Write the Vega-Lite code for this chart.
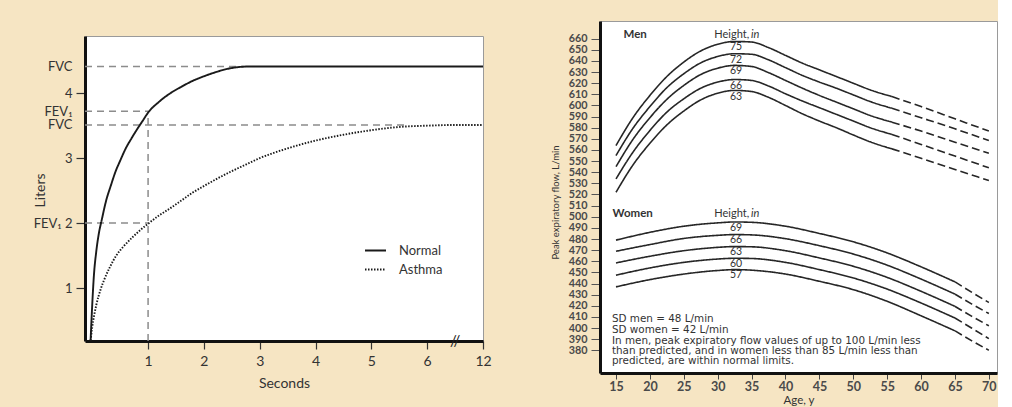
{
  "$schema": "https://vega.github.io/schema/vega-lite/v6.json",
  "background": "#f6e5c3",
  "padding": {"left": 32, "top": 20, "right": 0, "bottom": 0},
  "spacing": 57,
  "resolve": {"scale": {"strokeDash": "independent"}, "legend": {"strokeDash": "independent"}},
  "config": {
    "font": "Lato",
    "view": {"stroke": "#9a9a9a", "strokeWidth": 1, "fill": "white"},
    "axis": {"grid": false, "domainColor": "#111", "domainWidth": 3, "labelColor": "#333", "titleColor": "#333", "titleFontWeight": "normal", "zindex": 1, "labelOverlap": false, "labelFlush": false}
  },
  "datasets": {
    "refs": [
      {"t": -0.13, "L": 4.41, "t2": 2.75, "L2": 4.41},
      {"t": -0.13, "L": 3.72, "t2": 1, "L2": 3.72},
      {"t": -0.13, "L": 3.51, "t2": 5.6, "L2": 3.51},
      {"t": -0.13, "L": 2, "t2": 1, "L2": 2},
      {"t": 1, "L": 0.185, "t2": 1, "L2": 3.66}
    ],
    "spiro": [
      {"series": "Normal", "t": -0.03, "L": 0.19},
      {"series": "Normal", "t": 0.0, "L": 0.75},
      {"series": "Normal", "t": 0.03, "L": 1.2},
      {"series": "Normal", "t": 0.07, "L": 1.55},
      {"series": "Normal", "t": 0.12, "L": 1.85},
      {"series": "Normal", "t": 0.17, "L": 2.05},
      {"series": "Normal", "t": 0.25, "L": 2.35},
      {"series": "Normal", "t": 0.33, "L": 2.57},
      {"series": "Normal", "t": 0.42, "L": 2.8},
      {"series": "Normal", "t": 0.5, "L": 2.96},
      {"series": "Normal", "t": 0.6, "L": 3.15},
      {"series": "Normal", "t": 0.7, "L": 3.3},
      {"series": "Normal", "t": 0.8, "L": 3.44},
      {"series": "Normal", "t": 0.9, "L": 3.57},
      {"series": "Normal", "t": 1.0, "L": 3.7},
      {"series": "Normal", "t": 1.2, "L": 3.87},
      {"series": "Normal", "t": 1.4, "L": 4.0},
      {"series": "Normal", "t": 1.6, "L": 4.1},
      {"series": "Normal", "t": 1.8, "L": 4.19},
      {"series": "Normal", "t": 2.0, "L": 4.26},
      {"series": "Normal", "t": 2.2, "L": 4.32},
      {"series": "Normal", "t": 2.4, "L": 4.37},
      {"series": "Normal", "t": 2.6, "L": 4.4},
      {"series": "Normal", "t": 2.8, "L": 4.41},
      {"series": "Normal", "t": 3.0, "L": 4.41},
      {"series": "Normal", "t": 7.0, "L": 4.41},
      {"series": "Asthma", "t": -0.03, "L": 0.19},
      {"series": "Asthma", "t": 0.0, "L": 0.4},
      {"series": "Asthma", "t": 0.07, "L": 0.73},
      {"series": "Asthma", "t": 0.15, "L": 0.98},
      {"series": "Asthma", "t": 0.22, "L": 1.14},
      {"series": "Asthma", "t": 0.32, "L": 1.33},
      {"series": "Asthma", "t": 0.43, "L": 1.5},
      {"series": "Asthma", "t": 0.55, "L": 1.63},
      {"series": "Asthma", "t": 0.73, "L": 1.79},
      {"series": "Asthma", "t": 0.87, "L": 1.9},
      {"series": "Asthma", "t": 1.0, "L": 1.99},
      {"series": "Asthma", "t": 1.2, "L": 2.12},
      {"series": "Asthma", "t": 1.4, "L": 2.23},
      {"series": "Asthma", "t": 1.6, "L": 2.35},
      {"series": "Asthma", "t": 1.8, "L": 2.47},
      {"series": "Asthma", "t": 2.0, "L": 2.57},
      {"series": "Asthma", "t": 2.25, "L": 2.69},
      {"series": "Asthma", "t": 2.5, "L": 2.8},
      {"series": "Asthma", "t": 2.75, "L": 2.9},
      {"series": "Asthma", "t": 3.0, "L": 3.0},
      {"series": "Asthma", "t": 3.5, "L": 3.15},
      {"series": "Asthma", "t": 4.0, "L": 3.27},
      {"series": "Asthma", "t": 4.5, "L": 3.36},
      {"series": "Asthma", "t": 5.0, "L": 3.43},
      {"series": "Asthma", "t": 5.5, "L": 3.48},
      {"series": "Asthma", "t": 6.0, "L": 3.5},
      {"series": "Asthma", "t": 6.5, "L": 3.51},
      {"series": "Asthma", "t": 7.0, "L": 3.51}
    ],
    "brk": [{"t": 6.5, "L": 0.185, "label": "//"}],
    "pef": [
      {"sex": "Men", "ht": 75, "seg": "solid", "age": 15, "pef": 564},
      {"sex": "Men", "ht": 75, "seg": "solid", "age": 17.5, "pef": 589},
      {"sex": "Men", "ht": 75, "seg": "solid", "age": 20, "pef": 609},
      {"sex": "Men", "ht": 75, "seg": "solid", "age": 22.5, "pef": 626},
      {"sex": "Men", "ht": 75, "seg": "solid", "age": 25, "pef": 639},
      {"sex": "Men", "ht": 75, "seg": "solid", "age": 27.5, "pef": 649},
      {"sex": "Men", "ht": 75, "seg": "solid", "age": 30, "pef": 655},
      {"sex": "Men", "ht": 75, "seg": "solid", "age": 32.5, "pef": 657.5},
      {"sex": "Men", "ht": 75, "seg": "solid", "age": 35, "pef": 657},
      {"sex": "Men", "ht": 75, "seg": "solid", "age": 37.5, "pef": 652},
      {"sex": "Men", "ht": 75, "seg": "solid", "age": 40, "pef": 645},
      {"sex": "Men", "ht": 75, "seg": "solid", "age": 42.5, "pef": 638},
      {"sex": "Men", "ht": 75, "seg": "solid", "age": 45, "pef": 632},
      {"sex": "Men", "ht": 75, "seg": "solid", "age": 47.5, "pef": 626},
      {"sex": "Men", "ht": 75, "seg": "solid", "age": 50, "pef": 620},
      {"sex": "Men", "ht": 75, "seg": "solid", "age": 52.5, "pef": 614},
      {"sex": "Men", "ht": 75, "seg": "solid", "age": 55.7, "pef": 608},
      {"sex": "Men", "ht": 75, "seg": "dashed", "age": 55.7, "pef": 608},
      {"sex": "Men", "ht": 75, "seg": "dashed", "age": 60, "pef": 599},
      {"sex": "Men", "ht": 75, "seg": "dashed", "age": 65, "pef": 588},
      {"sex": "Men", "ht": 75, "seg": "dashed", "age": 70, "pef": 577},
      {"sex": "Men", "ht": 72, "seg": "solid", "age": 15, "pef": 555},
      {"sex": "Men", "ht": 72, "seg": "solid", "age": 17.5, "pef": 579.5},
      {"sex": "Men", "ht": 72, "seg": "solid", "age": 20, "pef": 599},
      {"sex": "Men", "ht": 72, "seg": "solid", "age": 22.5, "pef": 616},
      {"sex": "Men", "ht": 72, "seg": "solid", "age": 25, "pef": 628.5},
      {"sex": "Men", "ht": 72, "seg": "solid", "age": 27.5, "pef": 638.3},
      {"sex": "Men", "ht": 72, "seg": "solid", "age": 30, "pef": 644},
      {"sex": "Men", "ht": 72, "seg": "solid", "age": 32.5, "pef": 646.5},
      {"sex": "Men", "ht": 72, "seg": "solid", "age": 35, "pef": 646},
      {"sex": "Men", "ht": 72, "seg": "solid", "age": 37.5, "pef": 641},
      {"sex": "Men", "ht": 72, "seg": "solid", "age": 40, "pef": 634},
      {"sex": "Men", "ht": 72, "seg": "solid", "age": 42.5, "pef": 627},
      {"sex": "Men", "ht": 72, "seg": "solid", "age": 45, "pef": 621},
      {"sex": "Men", "ht": 72, "seg": "solid", "age": 47.5, "pef": 615.5},
      {"sex": "Men", "ht": 72, "seg": "solid", "age": 50, "pef": 609.5},
      {"sex": "Men", "ht": 72, "seg": "solid", "age": 52.5, "pef": 603.5},
      {"sex": "Men", "ht": 72, "seg": "solid", "age": 55.7, "pef": 597.5},
      {"sex": "Men", "ht": 72, "seg": "dashed", "age": 55.7, "pef": 597.5},
      {"sex": "Men", "ht": 72, "seg": "dashed", "age": 60, "pef": 589},
      {"sex": "Men", "ht": 72, "seg": "dashed", "age": 65, "pef": 579},
      {"sex": "Men", "ht": 72, "seg": "dashed", "age": 70, "pef": 568.5},
      {"sex": "Men", "ht": 69, "seg": "solid", "age": 15, "pef": 545},
      {"sex": "Men", "ht": 69, "seg": "solid", "age": 17.5, "pef": 569.5},
      {"sex": "Men", "ht": 69, "seg": "solid", "age": 20, "pef": 589},
      {"sex": "Men", "ht": 69, "seg": "solid", "age": 22.5, "pef": 605.5},
      {"sex": "Men", "ht": 69, "seg": "solid", "age": 25, "pef": 618},
      {"sex": "Men", "ht": 69, "seg": "solid", "age": 27.5, "pef": 627.8},
      {"sex": "Men", "ht": 69, "seg": "solid", "age": 30, "pef": 633.5},
      {"sex": "Men", "ht": 69, "seg": "solid", "age": 32.5, "pef": 636},
      {"sex": "Men", "ht": 69, "seg": "solid", "age": 35, "pef": 635},
      {"sex": "Men", "ht": 69, "seg": "solid", "age": 37.5, "pef": 629.5},
      {"sex": "Men", "ht": 69, "seg": "solid", "age": 40, "pef": 622.5},
      {"sex": "Men", "ht": 69, "seg": "solid", "age": 42.5, "pef": 615.5},
      {"sex": "Men", "ht": 69, "seg": "solid", "age": 45, "pef": 609},
      {"sex": "Men", "ht": 69, "seg": "solid", "age": 47.5, "pef": 603},
      {"sex": "Men", "ht": 69, "seg": "solid", "age": 50, "pef": 597},
      {"sex": "Men", "ht": 69, "seg": "solid", "age": 52.5, "pef": 591},
      {"sex": "Men", "ht": 69, "seg": "solid", "age": 55.7, "pef": 585},
      {"sex": "Men", "ht": 69, "seg": "dashed", "age": 55.7, "pef": 585},
      {"sex": "Men", "ht": 69, "seg": "dashed", "age": 60, "pef": 577},
      {"sex": "Men", "ht": 69, "seg": "dashed", "age": 65, "pef": 567},
      {"sex": "Men", "ht": 69, "seg": "dashed", "age": 70, "pef": 557},
      {"sex": "Men", "ht": 66, "seg": "solid", "age": 15, "pef": 534},
      {"sex": "Men", "ht": 66, "seg": "solid", "age": 17.5, "pef": 558},
      {"sex": "Men", "ht": 66, "seg": "solid", "age": 20, "pef": 577.5},
      {"sex": "Men", "ht": 66, "seg": "solid", "age": 22.5, "pef": 594},
      {"sex": "Men", "ht": 66, "seg": "solid", "age": 25, "pef": 606},
      {"sex": "Men", "ht": 66, "seg": "solid", "age": 27.5, "pef": 615.5},
      {"sex": "Men", "ht": 66, "seg": "solid", "age": 30, "pef": 621},
      {"sex": "Men", "ht": 66, "seg": "solid", "age": 32.5, "pef": 623.3},
      {"sex": "Men", "ht": 66, "seg": "solid", "age": 35, "pef": 622.5},
      {"sex": "Men", "ht": 66, "seg": "solid", "age": 37.5, "pef": 617.5},
      {"sex": "Men", "ht": 66, "seg": "solid", "age": 40, "pef": 610.5},
      {"sex": "Men", "ht": 66, "seg": "solid", "age": 42.5, "pef": 604},
      {"sex": "Men", "ht": 66, "seg": "solid", "age": 45, "pef": 598},
      {"sex": "Men", "ht": 66, "seg": "solid", "age": 47.5, "pef": 592},
      {"sex": "Men", "ht": 66, "seg": "solid", "age": 50, "pef": 586},
      {"sex": "Men", "ht": 66, "seg": "solid", "age": 52.5, "pef": 580},
      {"sex": "Men", "ht": 66, "seg": "solid", "age": 55.7, "pef": 574},
      {"sex": "Men", "ht": 66, "seg": "dashed", "age": 55.7, "pef": 574},
      {"sex": "Men", "ht": 66, "seg": "dashed", "age": 60, "pef": 565},
      {"sex": "Men", "ht": 66, "seg": "dashed", "age": 65, "pef": 554.5},
      {"sex": "Men", "ht": 66, "seg": "dashed", "age": 70, "pef": 544},
      {"sex": "Men", "ht": 63, "seg": "solid", "age": 15, "pef": 522},
      {"sex": "Men", "ht": 63, "seg": "solid", "age": 17.5, "pef": 546.5},
      {"sex": "Men", "ht": 63, "seg": "solid", "age": 20, "pef": 566},
      {"sex": "Men", "ht": 63, "seg": "solid", "age": 22.5, "pef": 582.5},
      {"sex": "Men", "ht": 63, "seg": "solid", "age": 25, "pef": 595},
      {"sex": "Men", "ht": 63, "seg": "solid", "age": 27.5, "pef": 605},
      {"sex": "Men", "ht": 63, "seg": "solid", "age": 30, "pef": 611},
      {"sex": "Men", "ht": 63, "seg": "solid", "age": 32.5, "pef": 613.5},
      {"sex": "Men", "ht": 63, "seg": "solid", "age": 35, "pef": 612.5},
      {"sex": "Men", "ht": 63, "seg": "solid", "age": 37.5, "pef": 607.3},
      {"sex": "Men", "ht": 63, "seg": "solid", "age": 40, "pef": 600},
      {"sex": "Men", "ht": 63, "seg": "solid", "age": 42.5, "pef": 592.5},
      {"sex": "Men", "ht": 63, "seg": "solid", "age": 45, "pef": 586},
      {"sex": "Men", "ht": 63, "seg": "solid", "age": 47.5, "pef": 580},
      {"sex": "Men", "ht": 63, "seg": "solid", "age": 50, "pef": 573.5},
      {"sex": "Men", "ht": 63, "seg": "solid", "age": 52.5, "pef": 567.3},
      {"sex": "Men", "ht": 63, "seg": "solid", "age": 55.7, "pef": 561},
      {"sex": "Men", "ht": 63, "seg": "dashed", "age": 55.7, "pef": 561},
      {"sex": "Men", "ht": 63, "seg": "dashed", "age": 60, "pef": 552.5},
      {"sex": "Men", "ht": 63, "seg": "dashed", "age": 65, "pef": 542.5},
      {"sex": "Men", "ht": 63, "seg": "dashed", "age": 70, "pef": 532.5},
      {"sex": "Women", "ht": 69, "seg": "solid", "age": 15, "pef": 479},
      {"sex": "Women", "ht": 69, "seg": "solid", "age": 20, "pef": 486},
      {"sex": "Women", "ht": 69, "seg": "solid", "age": 25, "pef": 491.5},
      {"sex": "Women", "ht": 69, "seg": "solid", "age": 30, "pef": 494.5},
      {"sex": "Women", "ht": 69, "seg": "solid", "age": 32.5, "pef": 495.3},
      {"sex": "Women", "ht": 69, "seg": "solid", "age": 35, "pef": 495},
      {"sex": "Women", "ht": 69, "seg": "solid", "age": 40, "pef": 491.5},
      {"sex": "Women", "ht": 69, "seg": "solid", "age": 45, "pef": 485},
      {"sex": "Women", "ht": 69, "seg": "solid", "age": 50, "pef": 477.5},
      {"sex": "Women", "ht": 69, "seg": "solid", "age": 55, "pef": 467.5},
      {"sex": "Women", "ht": 69, "seg": "solid", "age": 60, "pef": 455},
      {"sex": "Women", "ht": 69, "seg": "solid", "age": 65, "pef": 441.5},
      {"sex": "Women", "ht": 69, "seg": "dashed", "age": 65, "pef": 441.5},
      {"sex": "Women", "ht": 69, "seg": "dashed", "age": 67.5, "pef": 432},
      {"sex": "Women", "ht": 69, "seg": "dashed", "age": 70, "pef": 423},
      {"sex": "Women", "ht": 66, "seg": "solid", "age": 15, "pef": 469},
      {"sex": "Women", "ht": 66, "seg": "solid", "age": 20, "pef": 475},
      {"sex": "Women", "ht": 66, "seg": "solid", "age": 25, "pef": 480.5},
      {"sex": "Women", "ht": 66, "seg": "solid", "age": 30, "pef": 483.3},
      {"sex": "Women", "ht": 66, "seg": "solid", "age": 32.5, "pef": 484},
      {"sex": "Women", "ht": 66, "seg": "solid", "age": 35, "pef": 483.7},
      {"sex": "Women", "ht": 66, "seg": "solid", "age": 40, "pef": 480.3},
      {"sex": "Women", "ht": 66, "seg": "solid", "age": 45, "pef": 474},
      {"sex": "Women", "ht": 66, "seg": "solid", "age": 50, "pef": 466.5},
      {"sex": "Women", "ht": 66, "seg": "solid", "age": 55, "pef": 456.5},
      {"sex": "Women", "ht": 66, "seg": "solid", "age": 60, "pef": 444},
      {"sex": "Women", "ht": 66, "seg": "solid", "age": 65, "pef": 430.5},
      {"sex": "Women", "ht": 66, "seg": "dashed", "age": 65, "pef": 430.5},
      {"sex": "Women", "ht": 66, "seg": "dashed", "age": 67.5, "pef": 421.5},
      {"sex": "Women", "ht": 66, "seg": "dashed", "age": 70, "pef": 413},
      {"sex": "Women", "ht": 63, "seg": "solid", "age": 15, "pef": 458.5},
      {"sex": "Women", "ht": 63, "seg": "solid", "age": 20, "pef": 464.5},
      {"sex": "Women", "ht": 63, "seg": "solid", "age": 25, "pef": 469.5},
      {"sex": "Women", "ht": 63, "seg": "solid", "age": 30, "pef": 472.5},
      {"sex": "Women", "ht": 63, "seg": "solid", "age": 32.5, "pef": 473.2},
      {"sex": "Women", "ht": 63, "seg": "solid", "age": 35, "pef": 473},
      {"sex": "Women", "ht": 63, "seg": "solid", "age": 40, "pef": 469.5},
      {"sex": "Women", "ht": 63, "seg": "solid", "age": 45, "pef": 463},
      {"sex": "Women", "ht": 63, "seg": "solid", "age": 50, "pef": 455.5},
      {"sex": "Women", "ht": 63, "seg": "solid", "age": 55, "pef": 445.5},
      {"sex": "Women", "ht": 63, "seg": "solid", "age": 60, "pef": 433},
      {"sex": "Women", "ht": 63, "seg": "solid", "age": 65, "pef": 419.5},
      {"sex": "Women", "ht": 63, "seg": "dashed", "age": 65, "pef": 419.5},
      {"sex": "Women", "ht": 63, "seg": "dashed", "age": 67.5, "pef": 410.5},
      {"sex": "Women", "ht": 63, "seg": "dashed", "age": 70, "pef": 402},
      {"sex": "Women", "ht": 60, "seg": "solid", "age": 15, "pef": 447.5},
      {"sex": "Women", "ht": 60, "seg": "solid", "age": 20, "pef": 454},
      {"sex": "Women", "ht": 60, "seg": "solid", "age": 25, "pef": 459},
      {"sex": "Women", "ht": 60, "seg": "solid", "age": 30, "pef": 462},
      {"sex": "Women", "ht": 60, "seg": "solid", "age": 32.5, "pef": 462.7},
      {"sex": "Women", "ht": 60, "seg": "solid", "age": 35, "pef": 462.5},
      {"sex": "Women", "ht": 60, "seg": "solid", "age": 40, "pef": 459},
      {"sex": "Women", "ht": 60, "seg": "solid", "age": 45, "pef": 452.5},
      {"sex": "Women", "ht": 60, "seg": "solid", "age": 50, "pef": 445},
      {"sex": "Women", "ht": 60, "seg": "solid", "age": 55, "pef": 435},
      {"sex": "Women", "ht": 60, "seg": "solid", "age": 60, "pef": 422.5},
      {"sex": "Women", "ht": 60, "seg": "solid", "age": 65, "pef": 409},
      {"sex": "Women", "ht": 60, "seg": "dashed", "age": 65, "pef": 409},
      {"sex": "Women", "ht": 60, "seg": "dashed", "age": 67.5, "pef": 399.8},
      {"sex": "Women", "ht": 60, "seg": "dashed", "age": 70, "pef": 390.5},
      {"sex": "Women", "ht": 57, "seg": "solid", "age": 15, "pef": 437},
      {"sex": "Women", "ht": 57, "seg": "solid", "age": 20, "pef": 443.5},
      {"sex": "Women", "ht": 57, "seg": "solid", "age": 25, "pef": 448.5},
      {"sex": "Women", "ht": 57, "seg": "solid", "age": 30, "pef": 451.7},
      {"sex": "Women", "ht": 57, "seg": "solid", "age": 32.5, "pef": 452.5},
      {"sex": "Women", "ht": 57, "seg": "solid", "age": 35, "pef": 452},
      {"sex": "Women", "ht": 57, "seg": "solid", "age": 40, "pef": 448.5},
      {"sex": "Women", "ht": 57, "seg": "solid", "age": 45, "pef": 442},
      {"sex": "Women", "ht": 57, "seg": "solid", "age": 50, "pef": 434.5},
      {"sex": "Women", "ht": 57, "seg": "solid", "age": 55, "pef": 424},
      {"sex": "Women", "ht": 57, "seg": "solid", "age": 60, "pef": 411},
      {"sex": "Women", "ht": 57, "seg": "solid", "age": 65, "pef": 397.5},
      {"sex": "Women", "ht": 57, "seg": "dashed", "age": 65, "pef": 397.5},
      {"sex": "Women", "ht": 57, "seg": "dashed", "age": 67.5, "pef": 388.5},
      {"sex": "Women", "ht": 57, "seg": "dashed", "age": 70, "pef": 380}
    ],
    "hdr": [
      {"age": 16.1, "pef": 663, "label": "Men"},
      {"age": 14.5, "pef": 502.8, "label": "Women"}
    ],
    "hgt": [
      {"age": 29.5, "pef": 663, "label": "Height,"},
      {"age": 29.5, "pef": 502.8, "label": "Height,"}
    ],
    "hin": [
      {"age": 34.9, "pef": 663, "label": "in"},
      {"age": 34.9, "pef": 502.8, "label": "in"}
    ],
    "hnum": [
      {"age": 32.7, "pef": 652.3, "label": "75"},
      {"age": 32.7, "pef": 641.1, "label": "72"},
      {"age": 32.7, "pef": 630.7, "label": "69"},
      {"age": 32.7, "pef": 617.8, "label": "66"},
      {"age": 32.7, "pef": 607.9, "label": "63"},
      {"age": 32.7, "pef": 490, "label": "69"},
      {"age": 32.7, "pef": 479.1, "label": "66"},
      {"age": 32.7, "pef": 468.6, "label": "63"},
      {"age": 32.7, "pef": 457.6, "label": "60"},
      {"age": 32.7, "pef": 447.4, "label": "57"}
    ],
    "notes": [
      {"age": 14.4, "pef": 407.9, "label": "SD men = 48 L/min"},
      {"age": 14.4, "pef": 398, "label": "SD women = 42 L/min"},
      {"age": 14.4, "pef": 388, "label": "In men, peak expiratory flow values of up to 100 L/min less"},
      {"age": 14.4, "pef": 379, "label": "than predicted, and in women less than 85 L/min less than"},
      {"age": 14.4, "pef": 370, "label": "predicted, are within normal limits."}
    ]
  },
  "hconcat": [
    {
      "spacing": 13,
      "vconcat": [
        {
          "width": 398,
          "height": 1,
          "data": {"values": []},
          "mark": "point",
          "view": {"stroke": null, "fill": null}
        },
        {
          "width": 398,
          "height": 305,
          "layer": [
            {
              "data": {"name": "refs"},
              "mark": {"type": "rule", "color": "#8c8c8c", "strokeWidth": 1.5, "strokeDash": [7, 5]},
              "encoding": {
                "x": {"field": "t", "type": "quantitative", "scale": {"domain": [-0.13, 7], "nice": false, "zero": false},
                  "axis": {"title": "Seconds", "values": [1, 2, 3, 4, 5, 6, 7], "tickCount": 100, "labelExpr": "datum.value == 7 ? '12' : '' + datum.value",
                    "labelOverlap": false, "labelFlush": false,
                    "tickColor": "#333", "tickWidth": 1.2, "tickSize": 8, "labelFontSize": 14, "labelPadding": 5, "titleFontSize": 14, "titlePadding": 8}},
                "x2": {"field": "t2"},
                "y": {"field": "L", "type": "quantitative", "scale": {"domain": [0.185, 4.88], "nice": false, "zero": false},
                  "axis": {"title": "Liters", "values": [1, 2, 3, 3.51, 3.72, 4, 4.41], "tickCount": 100,
                    "labelExpr": "datum.value == 4.41 || datum.value == 3.51 ? 'FVC' : datum.value == 3.72 ? 'FEV₁' : datum.value == 2 ? 'FEV₁ 2' : '' + datum.value",
                    "labelOverlap": false,
                    "tickColor": {"condition": {"test": "datum.value == 1 || datum.value == 2 || datum.value == 3 || datum.value == 4", "value": "#333"}, "value": "transparent"},
                    "tickWidth": 1.2, "tickSize": 9, "labelFontSize": 13, "labelPadding": 4, "titleFontSize": 14,
                    "titleX": -45, "titleY": 154, "titleAlign": "center", "titleBaseline": "middle"}},
                "y2": {"field": "L2"}
              }
            },
            {
              "data": {"name": "spiro"},
              "mark": {"type": "line", "color": "#1a1a1a", "strokeWidth": 1.9, "interpolate": "monotone"},
              "encoding": {
                "x": {"field": "t", "type": "quantitative"},
                "y": {"field": "L", "type": "quantitative"},
                "strokeDash": {"field": "series", "type": "nominal",
                  "scale": {"domain": ["Normal", "Asthma"], "range": [[1, 0], [1.5, 1.5]]},
                  "legend": {"orient": "none", "legendX": 279, "legendY": 218, "title": null, "symbolType": "stroke", "symbolSize": 441,
                    "symbolStrokeWidth": 1.8, "symbolStrokeColor": "#1a1a1a", "labelFontSize": 13, "labelColor": "#333", "labelOffset": 12, "rowPadding": -5, "padding": 0}}
              }
            },
            {
              "data": {"name": "brk"},
              "mark": {"type": "text", "fontSize": 15, "color": "#222", "align": "center", "baseline": "middle"},
              "encoding": {
                "x": {"field": "t", "type": "quantitative"},
                "y": {"field": "L", "type": "quantitative"},
                "text": {"field": "label"}
              }
            }
          ]
        }
      ]
    },
    {
      "width": 397,
      "height": 352,
      "layer": [
        {
          "data": {"name": "pef"},
          "mark": {"type": "line", "color": "#262626", "strokeWidth": 1.6, "interpolate": "monotone"},
          "encoding": {
            "x": {"field": "age", "type": "quantitative", "scale": {"domain": [12.64, 71.2], "nice": false, "zero": false},
              "axis": {"title": "Age, y", "values": [15, 20, 25, 30, 35, 40, 45, 50, 55, 60, 65, 70], "tickCount": 100, "format": "d", "labelOverlap": false, "labelFlush": false,
                "tickSize": 6, "tickColor": "#444", "labelFontSize": 12.5, "labelFontWeight": "bold", "labelColor": "#4a4a4a", "labelPadding": 1, "titleFontSize": 11.5, "titlePadding": 2}},
            "y": {"field": "pef", "type": "quantitative", "scale": {"domain": [359.6, 675.9], "nice": false, "zero": false},
              "axis": {"title": "Peak expiratory flow, L/min", "labelOverlap": false, "tickCount": 100, "format": "d",
                "values": [380, 390, 400, 410, 420, 430, 440, 450, 460, 470, 480, 490, 500, 510, 520, 530, 540, 550, 560, 570, 580, 590, 600, 610, 620, 630, 640, 650, 660],
                "tickSize": 9, "tickColor": "#555", "labelFontSize": 10.8, "labelFontWeight": "bold", "labelColor": "#4a4a4a", "labelPadding": 4, "titleFontSize": 9.5,
                "titleX": -45, "titleY": 181, "titleAlign": "center", "titleBaseline": "middle"}},
            "detail": [{"field": "sex"}, {"field": "ht"}],
            "strokeDash": {"field": "seg", "type": "nominal", "scale": {"domain": ["solid", "dashed"], "range": [[1, 0], [8, 4]]}, "legend": null}
          }
        },
        {
          "data": {"name": "hdr"},
          "mark": {"type": "text", "fontSize": 11.5, "fontWeight": "bold", "color": "#333", "align": "left", "baseline": "middle"},
          "encoding": {"x": {"field": "age", "type": "quantitative"}, "y": {"field": "pef", "type": "quantitative"}, "text": {"field": "label"}}
        },
        {
          "data": {"name": "hgt"},
          "mark": {"type": "text", "fontSize": 11, "color": "#333", "align": "left", "baseline": "middle"},
          "encoding": {"x": {"field": "age", "type": "quantitative"}, "y": {"field": "pef", "type": "quantitative"}, "text": {"field": "label"}}
        },
        {
          "data": {"name": "hin"},
          "mark": {"type": "text", "fontSize": 11, "fontStyle": "italic", "color": "#333", "align": "left", "baseline": "middle"},
          "encoding": {"x": {"field": "age", "type": "quantitative"}, "y": {"field": "pef", "type": "quantitative"}, "text": {"field": "label"}}
        },
        {
          "data": {"name": "hnum"},
          "mark": {"type": "text", "fontSize": 10.5, "color": "#333", "align": "center", "baseline": "middle"},
          "encoding": {"x": {"field": "age", "type": "quantitative"}, "y": {"field": "pef", "type": "quantitative"}, "text": {"field": "label"}}
        },
        {
          "data": {"name": "notes"},
          "mark": {"type": "text", "font": "DejaVu Sans", "fontSize": 10.4, "color": "#333", "align": "left", "baseline": "middle"},
          "encoding": {"x": {"field": "age", "type": "quantitative"}, "y": {"field": "pef", "type": "quantitative"}, "text": {"field": "label"}}
        }
      ]
    }
  ]
}
